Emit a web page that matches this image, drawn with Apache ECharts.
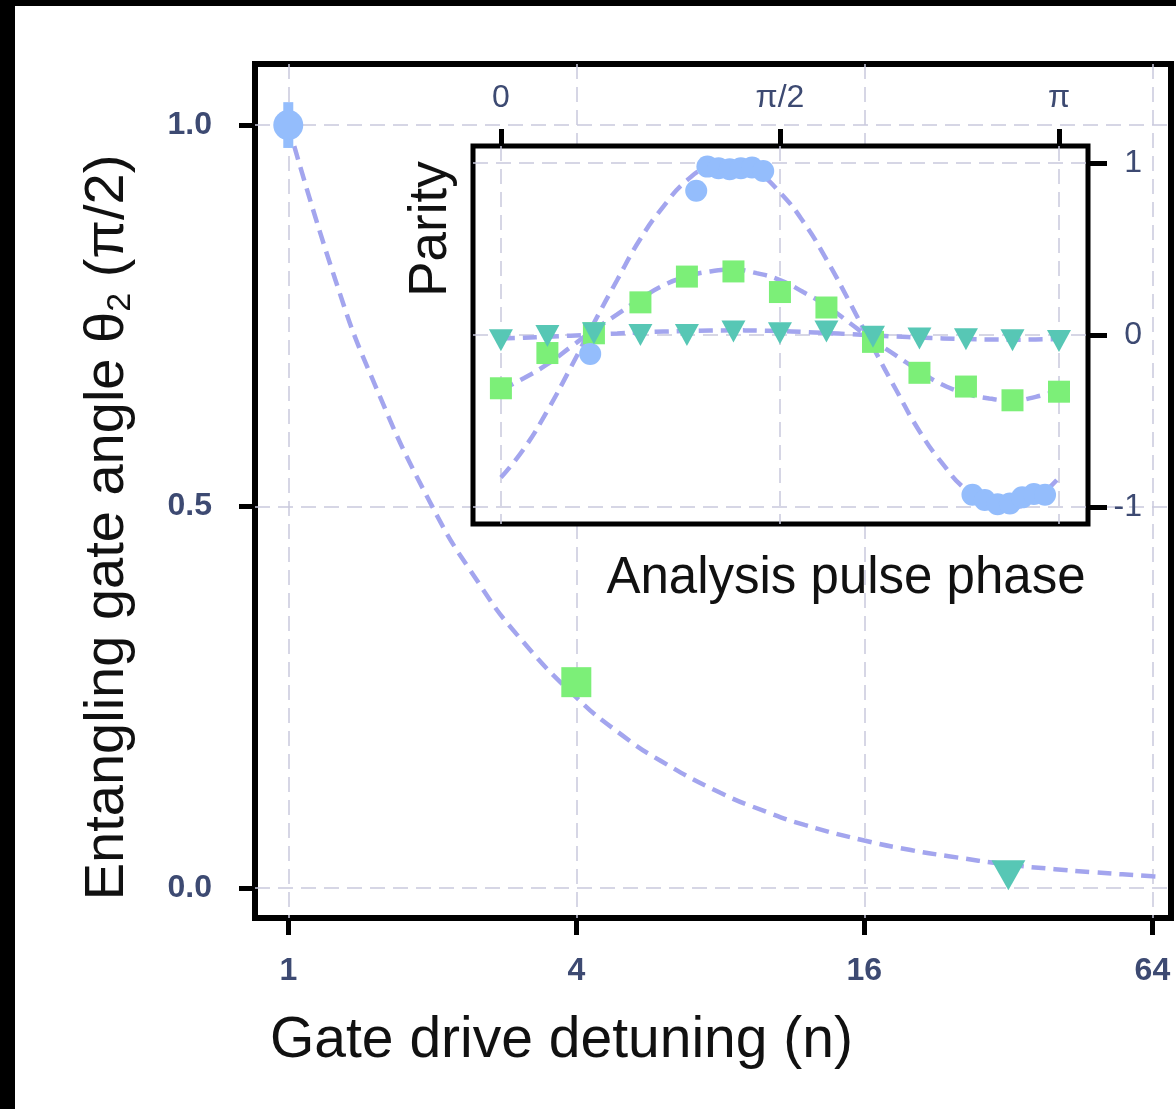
<!DOCTYPE html>
<html>
<head>
<meta charset="utf-8">
<script src="https://cdn.jsdelivr.net/npm/echarts@6/dist/echarts.min.js"></script>
<style>
html,body{margin:0;padding:0;background:#fff;}
#chart{position:absolute;left:0;top:0;width:1176px;height:1109px;}
#barTop{position:absolute;left:0;top:0;width:1176px;height:6px;background:#000;z-index:5;}
#barLeft{position:absolute;left:0;top:0;width:15px;height:1109px;background:#000;z-index:5;}
</style>
</head>
<body>
<div id="chart"></div>
<div id="barTop"></div>
<div id="barLeft"></div>
<script>
// ---------- Main panel data ----------
const mainXTicks = [1, 4, 16, 64];
const mainYTicks = [0, 0.5, 1.0];
const circleN = [1];
const circleTheta = [1.0];
const circleErr = [0.03];
const squareN = [4];
const squareTheta = [0.27];
const triangleN = [32];
const triangleTheta = [0.017];
const fitN = [1, 1.25, 1.5, 2, 2.5, 3, 4, 5, 6, 8, 10, 12, 16, 20, 24, 32, 40, 48, 64, 67];
const fitTheta = [1.0, 0.8, 0.667, 0.5, 0.4, 0.333, 0.25, 0.2, 0.167, 0.125, 0.1, 0.083, 0.0625, 0.05, 0.042, 0.031, 0.025, 0.021, 0.0156, 0.015];

// ---------- Inset data (phase in units of pi) ----------
const insetXTickValues = [0, 0.5, 1];
const insetXTickLabels = ['0', 'π/2', 'π'];
const insetYTicks = [-1, 0, 1];
const circlePhase = [0.16, 0.35, 0.37, 0.39, 0.41, 0.43, 0.45, 0.47, 0.845, 0.867, 0.89, 0.912, 0.934, 0.955, 0.975];
const circleParity = [-0.11, 0.84, 0.98, 0.97, 0.965, 0.97, 0.975, 0.955, -0.93, -0.96, -0.985, -0.98, -0.945, -0.925, -0.93];
const markerPhase = [0, 0.0833, 0.1667, 0.25, 0.3333, 0.4167, 0.5, 0.5833, 0.6667, 0.75, 0.8333, 0.9167, 1];
const squareParity = [-0.31, -0.105, 0.01, 0.19, 0.34, 0.37, 0.25, 0.16, -0.04, -0.22, -0.30, -0.38, -0.33];
const triangleParity = [-0.03, -0.006, 0.01, 0.0, 0.0, 0.02, 0.01, 0.02, -0.01, -0.02, -0.025, -0.03, -0.035];
const fitPhase = [0, 0.0417, 0.0833, 0.125, 0.1667, 0.2083, 0.25, 0.2917, 0.3333, 0.375, 0.4167, 0.4583, 0.5, 0.5417, 0.5833, 0.625, 0.6667, 0.7083, 0.75, 0.7917, 0.8333, 0.875, 0.9167, 0.9583, 1];
const fitCircleParity = [-0.83, -0.66, -0.44, -0.19, 0.07, 0.32, 0.56, 0.75, 0.90, 0.98, 1.0, 0.95, 0.83, 0.66, 0.44, 0.19, -0.07, -0.32, -0.56, -0.75, -0.90, -0.98, -1.0, -0.95, -0.83];
const fitSquareParity = [-0.32, -0.25, -0.17, -0.07, 0.03, 0.12, 0.21, 0.29, 0.34, 0.37, 0.38, 0.36, 0.32, 0.25, 0.17, 0.07, -0.03, -0.12, -0.21, -0.29, -0.34, -0.37, -0.38, -0.36, -0.32];
const fitTriangleParity = [-0.02, -0.016, -0.01, -0.004, 0.003, 0.009, 0.015, 0.02, 0.024, 0.026, 0.027, 0.026, 0.023, 0.018, 0.012, 0.005, -0.002, -0.009, -0.015, -0.02, -0.024, -0.026, -0.027, -0.026, -0.023];

// ---------- Styles ----------
const FONT = '"Liberation Sans", Arial, Helvetica, sans-serif';
const LABEL = '#3d4a72';
const TITLE = '#111111';
const GRID = '#c9c9dd';
const FIT = '#a3a5ee';
const C_CIRCLE = '#94bdfc';
const C_SQUARE = '#7cef78';
const C_TRI = '#57c7b5';

const zip = (a, b) => a.map((v, i) => [v, b[i]]);
const gridSplit = {show: true, lineStyle: {color: GRID, width: 1.5, type: [15, 8]}};
const fitLine = {color: FIT, width: 4.5, type: [14, 8]};
const noLine = {show: false, onZero: false};

const chart = echarts.init(document.getElementById('chart'), null, {renderer: 'canvas'});
const option = {
  animation: false,
  backgroundColor: '#fff',
  grid: [
    {left: 255, top: 64, width: 916, height: 854, show: true, backgroundColor: '#fff',
     borderColor: '#000', borderWidth: 6, z: 0, containLabel: false, outerBoundsMode: 'none'},
    {left: 473, top: 146, width: 615, height: 378, show: true, backgroundColor: '#fff',
     borderColor: '#000', borderWidth: 5, z: 5, containLabel: false, outerBoundsMode: 'none'}
  ],
  xAxis: [
    {
      gridIndex: 0, type: 'log', logBase: 2, min: 0.852, max: 70.0,
      axisLine: noLine,
      axisTick: {show: true, inside: false, customValues: mainXTicks, length: 17, lineStyle: {color: '#000', width: 5}},
      axisLabel: {customValues: mainXTicks, formatter: v => String(Math.round(v)), margin: 37,
                  fontSize: 32, fontWeight: 'bold', color: LABEL, fontFamily: FONT},
      splitLine: gridSplit,
      name: 'Gate drive detuning (n)', nameLocation: 'middle', nameGap: 95,
      nameTextStyle: {fontSize: 57, lineHeight: 57, color: TITLE, fontFamily: FONT, padding: [0, 303, 0, 0]}
    },
    {
      gridIndex: 1, type: 'value', position: 'top', min: -0.05, max: 1.052, z: 6,
      axisLine: noLine,
      axisTick: {show: true, inside: false, customValues: insetXTickValues, length: 17, lineStyle: {color: '#000', width: 5}},
      axisLabel: {customValues: insetXTickValues,
                  formatter: v => insetXTickLabels[insetXTickValues.indexOf(v)] || '',
                  margin: 32, fontSize: 32, color: LABEL, fontFamily: FONT},
      splitLine: gridSplit
    },
    {
      gridIndex: 1, type: 'value', position: 'bottom', min: -0.05, max: 1.052, z: 6,
      axisLine: noLine, axisTick: {show: false}, axisLabel: {show: false}, splitLine: {show: false},
      name: 'Analysis pulse phase', nameLocation: 'middle', nameGap: 29,
      nameTextStyle: {fontSize: 51, lineHeight: 51, color: TITLE, fontFamily: FONT, padding: [0, 0, 0, 131]}
    }
  ],
  yAxis: [
    {
      gridIndex: 0, type: 'value', min: -0.039, max: 1.08,
      axisLine: noLine,
      axisTick: {show: true, inside: false, customValues: mainYTicks, length: 16, lineStyle: {color: '#000', width: 5}},
      axisLabel: {customValues: mainYTicks, formatter: v => v.toFixed(1), margin: 43,
                  fontSize: 32, fontWeight: 'bold', color: LABEL, fontFamily: FONT},
      splitLine: gridSplit,
      name: 'Entangling gate angle θ{sub|2} (π/2)', nameLocation: 'middle', nameGap: 117,
      nameTextStyle: {fontSize: 56, lineHeight: 60, color: TITLE, fontFamily: FONT, padding: [0, 73, 0, 0],
        rich: {sub: {fontSize: 34, lineHeight: 4, verticalAlign: 'bottom', color: TITLE, fontFamily: FONT}}}
    },
    {
      gridIndex: 1, type: 'value', position: 'right', min: -1.1, max: 1.1, z: 6,
      axisLine: noLine,
      axisTick: {show: true, inside: false, customValues: insetYTicks, length: 19, lineStyle: {color: '#000', width: 5}},
      axisLabel: {customValues: insetYTicks, formatter: v => String(v), margin: 54, align: 'right',
                  fontSize: 32, color: LABEL, fontFamily: FONT},
      splitLine: gridSplit
    },
    {
      gridIndex: 1, type: 'value', position: 'left', min: -1.1, max: 1.1, z: 6,
      axisLine: noLine, axisTick: {show: false}, axisLabel: {show: false}, splitLine: {show: false},
      name: 'Parity', nameLocation: 'middle', nameGap: 15,
      nameTextStyle: {fontSize: 53, lineHeight: 53, color: TITLE, fontFamily: FONT, padding: [0, 0, 0, 212]}
    }
  ],
  series: [
    // main panel
    {type: 'line', xAxisIndex: 0, yAxisIndex: 0, data: zip(fitN, fitTheta), smooth: true,
     showSymbol: false, lineStyle: fitLine, z: 2, silent: true},
    {type: 'line', xAxisIndex: 0, yAxisIndex: 0,
     data: [[circleN[0], circleTheta[0] - circleErr[0]], [circleN[0], circleTheta[0] + circleErr[0]]],
     showSymbol: false, lineStyle: {color: C_CIRCLE, width: 10, cap: 'butt'}, z: 3, silent: true},
    {type: 'scatter', xAxisIndex: 0, yAxisIndex: 0, data: zip(circleN, circleTheta), symbol: 'circle',
     symbolSize: 30, itemStyle: {color: C_CIRCLE, opacity: 1}, z: 4, silent: true},
    {type: 'scatter', xAxisIndex: 0, yAxisIndex: 0, data: zip(squareN, squareTheta), symbol: 'rect',
     symbolSize: 30, itemStyle: {color: C_SQUARE, opacity: 1}, z: 4, silent: true},
    {type: 'scatter', xAxisIndex: 0, yAxisIndex: 0, data: zip(triangleN, triangleTheta), symbol: 'triangle',
     symbolRotate: 180, symbolSize: [34, 30], itemStyle: {color: C_TRI, opacity: 1}, z: 4, silent: true},
    // inset
    {type: 'line', xAxisIndex: 1, yAxisIndex: 1, data: zip(fitPhase, fitCircleParity), smooth: true,
     showSymbol: false, lineStyle: fitLine, z: 7, silent: true},
    {type: 'line', xAxisIndex: 1, yAxisIndex: 1, data: zip(fitPhase, fitSquareParity), smooth: true,
     showSymbol: false, lineStyle: fitLine, z: 7, silent: true},
    {type: 'line', xAxisIndex: 1, yAxisIndex: 1, data: zip(fitPhase, fitTriangleParity), smooth: true,
     showSymbol: false, lineStyle: fitLine, z: 7, silent: true},
    {type: 'scatter', xAxisIndex: 1, yAxisIndex: 1, data: zip(markerPhase, squareParity), symbol: 'rect',
     symbolSize: 22, itemStyle: {color: C_SQUARE, opacity: 1}, z: 8, silent: true},
    {type: 'scatter', xAxisIndex: 1, yAxisIndex: 1, data: zip(markerPhase, triangleParity), symbol: 'triangle',
     symbolRotate: 180, symbolSize: [24, 22], itemStyle: {color: C_TRI, opacity: 1}, z: 9, silent: true},
    {type: 'scatter', xAxisIndex: 1, yAxisIndex: 1, data: zip(circlePhase, circleParity), symbol: 'circle',
     symbolSize: 22, itemStyle: {color: C_CIRCLE, opacity: 1}, z: 8, silent: true}
  ]
};
chart.setOption(option);
</script>
</body>
</html>
